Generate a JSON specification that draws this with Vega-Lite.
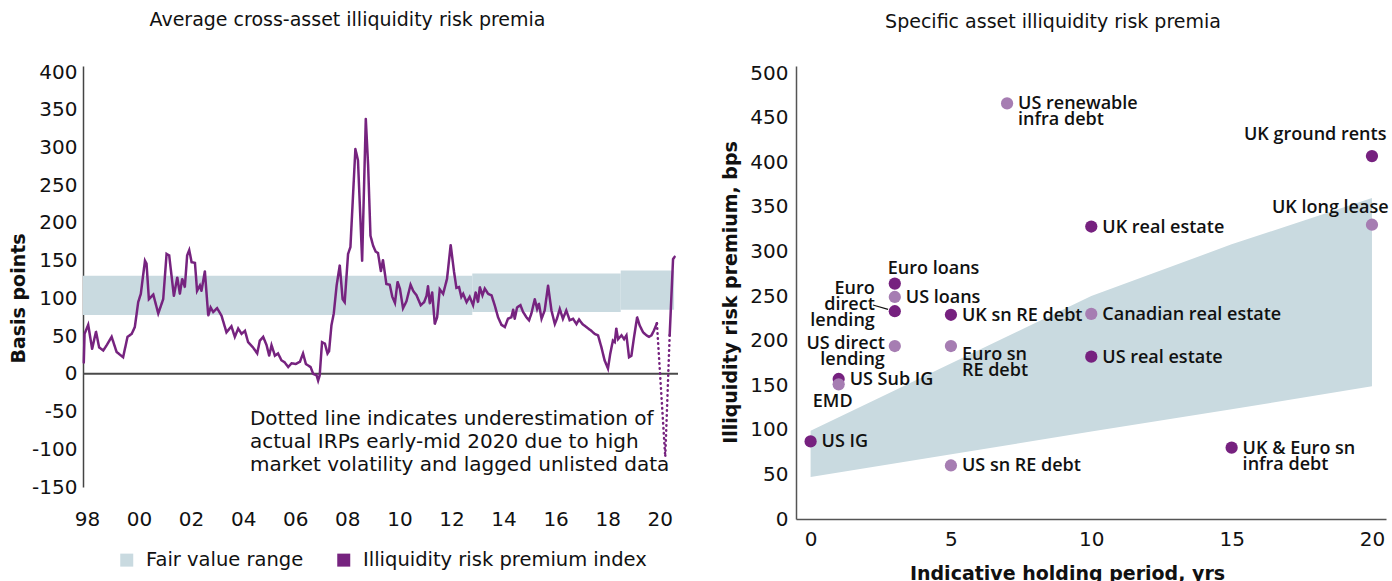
{
  "$schema": "https://vega.github.io/schema/vega-lite/v6.json",
  "padding": {"left": 9, "top": 11, "right": 0, "bottom": 0},
  "bounds": "flush",
  "spacing": 118,
  "config": {
    "view": {"stroke": null},
    "font": "DejaVu Sans",
    "axis": {"grid": false, "ticks": false, "domainColor": "#555555", "domainWidth": 1.5, "labelColor": "#111111", "labelFontSize": 20, "labelFont": "DejaVu Sans", "titleFont": "DejaVu Sans", "titleFontSize": 19, "titleFontWeight": "bold", "titleColor": "#111111", "labelOverlap": false},
    "axisY": {"labelOverlap": false},
    "axisLeft": {"labelOverlap": false},
    "title": {"fontSize": 19, "fontWeight": "normal", "color": "#111111", "font": "DejaVu Sans"}
  },
  "datasets": {
    "fair": [
      {"x0": 1997.85, "x1": 2012.8, "lo": 78, "hi": 130, "key": "Fair value range"},
      {"x0": 2012.8, "x1": 2018.5, "lo": 82, "hi": 133, "key": "Fair value range"},
      {"x0": 2018.5, "x1": 2020.55, "lo": 85, "hi": 137, "key": "Fair value range"},
      {"x0": 2020.55, "x1": 2020.55, "lo": 85, "hi": 85, "key": "Illiquidity risk premium index"}
    ],
    "irp": [
      {"year": 1997.88, "v": 15, "seg": "a"}, {"year": 1997.91, "v": 53, "seg": "a"}, {"year": 1998.05, "v": 65, "seg": "a"},
      {"year": 1998.2, "v": 33, "seg": "a"}, {"year": 1998.35, "v": 56, "seg": "a"}, {"year": 1998.47, "v": 35, "seg": "a"},
      {"year": 1998.63, "v": 31, "seg": "a"}, {"year": 1998.76, "v": 38, "seg": "a"}, {"year": 1998.95, "v": 49, "seg": "a"},
      {"year": 1999.14, "v": 29, "seg": "a"}, {"year": 1999.39, "v": 22, "seg": "a"}, {"year": 1999.56, "v": 49, "seg": "a"},
      {"year": 1999.72, "v": 53, "seg": "a"}, {"year": 1999.84, "v": 62, "seg": "a"}, {"year": 1999.97, "v": 95, "seg": "a"},
      {"year": 2000.07, "v": 106, "seg": "a"}, {"year": 2000.23, "v": 150, "seg": "a"}, {"year": 2000.29, "v": 146, "seg": "a"},
      {"year": 2000.38, "v": 99, "seg": "a"}, {"year": 2000.55, "v": 105, "seg": "a"}, {"year": 2000.74, "v": 80, "seg": "a"},
      {"year": 2000.93, "v": 99, "seg": "a"}, {"year": 2001.06, "v": 159, "seg": "a"}, {"year": 2001.16, "v": 157, "seg": "a"},
      {"year": 2001.34, "v": 103, "seg": "a"}, {"year": 2001.47, "v": 128, "seg": "a"}, {"year": 2001.57, "v": 106, "seg": "a"},
      {"year": 2001.66, "v": 126, "seg": "a"}, {"year": 2001.76, "v": 115, "seg": "a"}, {"year": 2001.85, "v": 157, "seg": "a"},
      {"year": 2001.93, "v": 164, "seg": "a"}, {"year": 2002.02, "v": 148, "seg": "a"}, {"year": 2002.15, "v": 147, "seg": "a"},
      {"year": 2002.23, "v": 110, "seg": "a"}, {"year": 2002.34, "v": 117, "seg": "a"}, {"year": 2002.4, "v": 110, "seg": "a"},
      {"year": 2002.53, "v": 136, "seg": "a"}, {"year": 2002.66, "v": 77, "seg": "a"}, {"year": 2002.75, "v": 88, "seg": "a"},
      {"year": 2002.85, "v": 82, "seg": "a"}, {"year": 2003.0, "v": 87, "seg": "a"}, {"year": 2003.17, "v": 77, "seg": "a"},
      {"year": 2003.36, "v": 55, "seg": "a"}, {"year": 2003.55, "v": 63, "seg": "a"}, {"year": 2003.68, "v": 49, "seg": "a"},
      {"year": 2003.81, "v": 60, "seg": "a"}, {"year": 2003.94, "v": 53, "seg": "a"}, {"year": 2004.07, "v": 57, "seg": "a"},
      {"year": 2004.19, "v": 42, "seg": "a"}, {"year": 2004.38, "v": 35, "seg": "a"}, {"year": 2004.54, "v": 27, "seg": "a"},
      {"year": 2004.64, "v": 44, "seg": "a"}, {"year": 2004.77, "v": 49, "seg": "a"}, {"year": 2004.9, "v": 38, "seg": "a"},
      {"year": 2005.0, "v": 24, "seg": "a"}, {"year": 2005.09, "v": 38, "seg": "a"}, {"year": 2005.22, "v": 24, "seg": "a"},
      {"year": 2005.34, "v": 27, "seg": "a"}, {"year": 2005.47, "v": 18, "seg": "a"}, {"year": 2005.6, "v": 15, "seg": "a"},
      {"year": 2005.73, "v": 9, "seg": "a"}, {"year": 2005.86, "v": 14, "seg": "a"}, {"year": 2006.02, "v": 13, "seg": "a"},
      {"year": 2006.18, "v": 16, "seg": "a"}, {"year": 2006.3, "v": 27, "seg": "a"}, {"year": 2006.41, "v": 13, "seg": "a"},
      {"year": 2006.59, "v": 9, "seg": "a"}, {"year": 2006.69, "v": 0, "seg": "a"}, {"year": 2006.82, "v": -2, "seg": "a"},
      {"year": 2006.88, "v": -9, "seg": "a"}, {"year": 2006.94, "v": -2, "seg": "a"}, {"year": 2007.03, "v": 42, "seg": "a"},
      {"year": 2007.14, "v": 40, "seg": "a"}, {"year": 2007.24, "v": 27, "seg": "a"}, {"year": 2007.3, "v": 30, "seg": "a"},
      {"year": 2007.39, "v": 64, "seg": "a"}, {"year": 2007.48, "v": 80, "seg": "a"}, {"year": 2007.59, "v": 117, "seg": "a"},
      {"year": 2007.71, "v": 144, "seg": "a"}, {"year": 2007.82, "v": 99, "seg": "a"}, {"year": 2007.9, "v": 95, "seg": "a"},
      {"year": 2008.03, "v": 159, "seg": "a"}, {"year": 2008.12, "v": 168, "seg": "a"}, {"year": 2008.31, "v": 298, "seg": "a"},
      {"year": 2008.41, "v": 283, "seg": "a"}, {"year": 2008.57, "v": 150, "seg": "a"}, {"year": 2008.71, "v": 338, "seg": "a"},
      {"year": 2008.8, "v": 276, "seg": "a"}, {"year": 2008.89, "v": 183, "seg": "a"}, {"year": 2008.99, "v": 170, "seg": "a"},
      {"year": 2009.09, "v": 162, "seg": "a"}, {"year": 2009.18, "v": 160, "seg": "a"}, {"year": 2009.29, "v": 136, "seg": "a"},
      {"year": 2009.37, "v": 151, "seg": "a"}, {"year": 2009.5, "v": 119, "seg": "a"}, {"year": 2009.63, "v": 118, "seg": "a"},
      {"year": 2009.73, "v": 102, "seg": "a"}, {"year": 2009.83, "v": 94, "seg": "a"}, {"year": 2009.93, "v": 122, "seg": "a"},
      {"year": 2010.02, "v": 113, "seg": "a"}, {"year": 2010.14, "v": 87, "seg": "a"}, {"year": 2010.27, "v": 96, "seg": "a"},
      {"year": 2010.43, "v": 118, "seg": "a"}, {"year": 2010.53, "v": 110, "seg": "a"}, {"year": 2010.66, "v": 104, "seg": "a"},
      {"year": 2010.82, "v": 91, "seg": "a"}, {"year": 2010.95, "v": 95, "seg": "a"}, {"year": 2011.04, "v": 103, "seg": "a"},
      {"year": 2011.1, "v": 116, "seg": "a"}, {"year": 2011.17, "v": 93, "seg": "a"}, {"year": 2011.26, "v": 108, "seg": "a"},
      {"year": 2011.36, "v": 66, "seg": "a"}, {"year": 2011.45, "v": 75, "seg": "a"}, {"year": 2011.55, "v": 112, "seg": "a"},
      {"year": 2011.68, "v": 106, "seg": "a"}, {"year": 2011.83, "v": 126, "seg": "a"}, {"year": 2011.97, "v": 171, "seg": "a"},
      {"year": 2012.1, "v": 135, "seg": "a"}, {"year": 2012.19, "v": 114, "seg": "a"}, {"year": 2012.29, "v": 115, "seg": "a"},
      {"year": 2012.38, "v": 102, "seg": "a"}, {"year": 2012.45, "v": 106, "seg": "a"}, {"year": 2012.58, "v": 95, "seg": "a"},
      {"year": 2012.7, "v": 102, "seg": "a"}, {"year": 2012.83, "v": 91, "seg": "a"}, {"year": 2012.93, "v": 108, "seg": "a"},
      {"year": 2013.02, "v": 95, "seg": "a"}, {"year": 2013.09, "v": 115, "seg": "a"}, {"year": 2013.19, "v": 104, "seg": "a"},
      {"year": 2013.28, "v": 113, "seg": "a"}, {"year": 2013.41, "v": 106, "seg": "a"}, {"year": 2013.54, "v": 104, "seg": "a"},
      {"year": 2013.66, "v": 91, "seg": "a"}, {"year": 2013.79, "v": 75, "seg": "a"}, {"year": 2013.92, "v": 65, "seg": "a"},
      {"year": 2014.05, "v": 62, "seg": "a"}, {"year": 2014.17, "v": 73, "seg": "a"}, {"year": 2014.3, "v": 75, "seg": "a"},
      {"year": 2014.37, "v": 85, "seg": "a"}, {"year": 2014.43, "v": 73, "seg": "a"}, {"year": 2014.52, "v": 88, "seg": "a"},
      {"year": 2014.65, "v": 91, "seg": "a"}, {"year": 2014.75, "v": 82, "seg": "a"}, {"year": 2014.88, "v": 75, "seg": "a"},
      {"year": 2014.98, "v": 71, "seg": "a"}, {"year": 2015.07, "v": 80, "seg": "a"}, {"year": 2015.2, "v": 99, "seg": "a"},
      {"year": 2015.29, "v": 86, "seg": "a"}, {"year": 2015.36, "v": 93, "seg": "a"}, {"year": 2015.46, "v": 73, "seg": "a"},
      {"year": 2015.58, "v": 84, "seg": "a"}, {"year": 2015.71, "v": 117, "seg": "a"}, {"year": 2015.84, "v": 84, "seg": "a"},
      {"year": 2015.97, "v": 66, "seg": "a"}, {"year": 2016.05, "v": 73, "seg": "a"}, {"year": 2016.16, "v": 86, "seg": "a"},
      {"year": 2016.28, "v": 73, "seg": "a"}, {"year": 2016.41, "v": 84, "seg": "a"}, {"year": 2016.54, "v": 71, "seg": "a"},
      {"year": 2016.67, "v": 73, "seg": "a"}, {"year": 2016.8, "v": 66, "seg": "a"}, {"year": 2016.9, "v": 72, "seg": "a"},
      {"year": 2017.03, "v": 66, "seg": "a"}, {"year": 2017.18, "v": 62, "seg": "a"}, {"year": 2017.37, "v": 57, "seg": "a"},
      {"year": 2017.5, "v": 53, "seg": "a"}, {"year": 2017.63, "v": 51, "seg": "a"}, {"year": 2017.76, "v": 35, "seg": "a"},
      {"year": 2017.88, "v": 18, "seg": "a"}, {"year": 2018.01, "v": 7, "seg": "a"}, {"year": 2018.1, "v": 27, "seg": "a"},
      {"year": 2018.2, "v": 44, "seg": "a"}, {"year": 2018.27, "v": 42, "seg": "a"}, {"year": 2018.33, "v": 60, "seg": "a"},
      {"year": 2018.4, "v": 46, "seg": "a"}, {"year": 2018.53, "v": 51, "seg": "a"}, {"year": 2018.63, "v": 46, "seg": "a"},
      {"year": 2018.72, "v": 51, "seg": "a"}, {"year": 2018.82, "v": 22, "seg": "a"}, {"year": 2018.91, "v": 24, "seg": "a"},
      {"year": 2019.0, "v": 46, "seg": "a"}, {"year": 2019.13, "v": 75, "seg": "a"}, {"year": 2019.23, "v": 64, "seg": "a"},
      {"year": 2019.36, "v": 55, "seg": "a"}, {"year": 2019.49, "v": 51, "seg": "a"}, {"year": 2019.59, "v": 49, "seg": "a"},
      {"year": 2019.68, "v": 51, "seg": "a"}, {"year": 2019.77, "v": 57, "seg": "a"}, {"year": 2019.89, "v": 67, "seg": "a"},
      {"year": 2019.89, "v": 67, "seg": "b"}, {"year": 2020.21, "v": -110, "seg": "b"}, {"year": 2020.38, "v": 51, "seg": "b"},
      {"year": 2020.38, "v": 51, "seg": "c"}, {"year": 2020.51, "v": 152, "seg": "c"}, {"year": 2020.57, "v": 155, "seg": "c"}
    ],
    "band2": [
      {"hp": 0, "lo": 47, "hi": 99},
      {"hp": 10, "lo": 98, "hi": 250},
      {"hp": 15, "lo": 123, "hi": 308},
      {"hp": 20, "lo": 149, "hi": 360}
    ],
    "assets": [
      {"name": "US IG", "label": "US IG", "hp": 0, "irp": 87, "group": "dark"},
      {"name": "US Sub IG", "label": "US Sub IG", "hp": 1, "irp": 157, "group": "dark"},
      {"name": "EMD", "label": "EMD", "hp": 1, "irp": 151, "group": "light"},
      {"name": "Euro loans", "label": "Euro loans", "hp": 3, "irp": 264, "group": "dark"},
      {"name": "US loans", "label": "US loans", "hp": 3, "irp": 249, "group": "light"},
      {"name": "Euro direct lending", "label": "Euro\ndirect\nlending", "hp": 3, "irp": 233, "group": "dark"},
      {"name": "US direct lending", "label": "US direct\nlending", "hp": 3, "irp": 194, "group": "light"},
      {"name": "UK sn RE debt", "label": "UK sn RE debt", "hp": 5, "irp": 229, "group": "dark"},
      {"name": "Euro sn RE debt", "label": "Euro sn\nRE debt", "hp": 5, "irp": 194, "group": "light"},
      {"name": "US sn RE debt", "label": "US sn RE debt", "hp": 5, "irp": 60, "group": "light"},
      {"name": "US renewable infra debt", "label": "US renewable\ninfra debt", "hp": 7, "irp": 466, "group": "light"},
      {"name": "UK real estate", "label": "UK real estate", "hp": 10, "irp": 328, "group": "dark"},
      {"name": "Canadian real estate", "label": "Canadian real estate", "hp": 10, "irp": 230, "group": "light"},
      {"name": "US real estate", "label": "US real estate", "hp": 10, "irp": 182, "group": "dark"},
      {"name": "UK & Euro sn infra debt", "label": "UK & Euro sn\ninfra debt", "hp": 15, "irp": 80, "group": "dark"},
      {"name": "UK ground rents", "label": "UK ground rents", "hp": 20, "irp": 407, "group": "dark"},
      {"name": "UK long lease", "label": "UK long lease", "hp": 20, "irp": 330, "group": "light"}
    ],
    "leader": [
      {"hp": 2.22, "irp": 240, "hp2": 2.76, "irp2": 235}
    ]
  },
  "hconcat": [
    {
      "width": 595,
      "height": 421,
      "title": {"text": "Average cross-asset illiquidity risk premia", "dx": -33, "offset": 32},
      "encoding": {
        "x": {"type": "quantitative", "scale": {"domain": [1997.85, 2020.7], "nice": false, "zero": false},
              "axis": {"values": [1998, 2000, 2002, 2004, 2006, 2008, 2010, 2012, 2014, 2016, 2018, 2020], "labelExpr": "(datum.value % 100) < 10 ? '0' + (datum.value % 100) : '' + (datum.value % 100)", "domain": false, "title": null, "labelPadding": 22, "labelFontSize": 20, "labelFlush": false, "labelOverlap": false}},
        "y": {"type": "quantitative", "scale": {"domain": [-150, 408], "nice": false},
              "axis": {"values": [-150, -100, -50, 0, 50, 100, 150, 200, 250, 300, 350, 400], "labelExpr": "'' + datum.value", "title": "Basis points", "titleX": -65, "titleY": 232, "titleAngle": 270, "titleBaseline": "middle", "titleAlign": "center", "labelPadding": 6, "domainColor": "#444444", "labelFlush": false, "labelOverlap": false, "labelBound": false, "labelSeparation": -15}}
      },
      "layer": [
        {
          "data": {"name": "fair"},
          "mark": {"type": "rect"},
          "encoding": {
            "x": {"field": "x0", "type": "quantitative"},
            "x2": {"field": "x1"},
            "y": {"field": "lo", "type": "quantitative"},
            "y2": {"field": "hi"},
            "fill": {"field": "key", "type": "nominal",
                     "scale": {"domain": ["Fair value range", "Illiquidity risk premium index"], "range": ["#c9dae0", "#76237f"]},
                     "legend": {"title": null, "orient": "none", "legendX": 34, "legendY": 484, "direction": "horizontal", "columns": 2, "symbolType": "square", "symbolSize": 169, "symbolStrokeWidth": 0, "labelFontSize": 19.5, "labelFont": "DejaVu Sans", "labelColor": "#111111", "labelLimit": 500, "columnPadding": 30, "labelOffset": 9.5}}
          }
        },
        {
          "data": {"values": [{}]},
          "mark": {"type": "rule", "color": "#4a4a4a", "strokeWidth": 2},
          "encoding": {"y": {"datum": 0, "type": "quantitative"}}
        },
        {
          "data": {"name": "irp"},
          "mark": {"type": "line", "strokeWidth": 2.5, "color": "#76237f", "strokeCap": "round"},
          "encoding": {
            "x": {"field": "year", "type": "quantitative"},
            "y": {"field": "v", "type": "quantitative"},
            "strokeDash": {"field": "seg", "type": "nominal", "scale": {"domain": ["a", "b", "c"], "range": [[1, 0], [0.5, 4.5], [1, 0]]}, "legend": null}
          }
        },
        {
          "data": {"values": [{}]},
          "mark": {"type": "text", "align": "left", "baseline": "top", "fontSize": 20, "lineHeight": 23, "color": "#111111", "font": "DejaVu Sans"},
          "encoding": {
            "x": {"datum": 2004.26, "type": "quantitative"},
            "y": {"datum": -46, "type": "quantitative"},
            "text": {"value": ["Dotted line indicates underestimation of", "actual IRPs early-mid 2020 due to high", "market volatility and lagged unlisted data"]}
          }
        }
      ]
    },
    {
      "width": 590,
      "height": 453,
      "title": {"text": "Specific asset illiquidity risk premia", "dx": -38, "offset": 31},
      "layer": [
        {
          "data": {"name": "band2"},
          "mark": {"type": "area", "color": "#c9dae0", "opacity": 1},
          "encoding": {
            "x": {"field": "hp", "type": "quantitative", "scale": {"domain": [-0.52, 20.5], "nice": false, "zero": false},
                  "axis": {"values": [0, 5, 10, 15, 20], "title": "Indicative holding period, yrs", "titleX": 271, "titleY": 45, "titleBaseline": "top", "titleAlign": "center", "labelPadding": 10, "labelFlush": false, "labelOverlap": false}},
            "y": {"field": "lo", "type": "quantitative", "scale": {"domain": [0, 508], "nice": false},
                  "axis": {"values": [0, 50, 100, 150, 200, 250, 300, 350, 400, 450, 500], "title": "Illiquidity risk premium, bps", "titleX": -66, "titleY": 226, "titleAngle": 270, "titleBaseline": "middle", "titleAlign": "center", "labelPadding": 8, "labelFlush": false, "labelOverlap": false}},
            "y2": {"field": "hi"}
          }
        },
        {
          "data": {"name": "leader"},
          "mark": {"type": "rule", "color": "#111111", "strokeWidth": 1.2},
          "encoding": {
            "x": {"field": "hp", "type": "quantitative"},
            "x2": {"field": "hp2"},
            "y": {"field": "irp", "type": "quantitative"},
            "y2": {"field": "irp2"}
          }
        },
        {
          "data": {"name": "assets"},
          "mark": {"type": "circle", "size": 150, "opacity": 1},
          "encoding": {
            "x": {"field": "hp", "type": "quantitative"},
            "y": {"field": "irp", "type": "quantitative"},
            "color": {"field": "group", "type": "nominal", "scale": {"domain": ["dark", "light"], "range": ["#76217f", "#a67db2"]}, "legend": null}
          }
        },
        {
          "data": {"name": "assets"},
          "transform": [{"filter": {"field": "name", "oneOf": ["US IG", "US Sub IG", "US loans", "UK sn RE debt", "Canadian real estate", "US real estate", "UK real estate", "US sn RE debt", "UK & Euro sn infra debt", "US renewable infra debt"]}}],
          "mark": {"type": "text", "align": "left", "baseline": "middle", "dx": 11, "dy": 1, "font": "Open Sans", "fontSize": 18, "fontWeight": 600, "lineBreak": "\n", "lineHeight": 16, "color": "#111111"},
          "encoding": {"x": {"field": "hp", "type": "quantitative"}, "y": {"field": "irp", "type": "quantitative"}, "text": {"field": "label"}}
        },
        {
          "data": {"name": "assets"},
          "transform": [{"filter": {"field": "name", "oneOf": ["Euro sn RE debt"]}}],
          "mark": {"type": "text", "align": "left", "baseline": "middle", "dx": 11, "dy": 9, "font": "Open Sans", "fontSize": 18, "fontWeight": 600, "lineBreak": "\n", "lineHeight": 16, "color": "#111111"},
          "encoding": {"x": {"field": "hp", "type": "quantitative"}, "y": {"field": "irp", "type": "quantitative"}, "text": {"field": "label"}}
        },
        {
          "data": {"name": "assets"},
          "transform": [{"filter": {"field": "name", "oneOf": ["Euro loans"]}}],
          "mark": {"type": "text", "align": "left", "baseline": "middle", "dx": -7, "dy": -15, "font": "Open Sans", "fontSize": 18, "fontWeight": 600, "lineBreak": "\n", "lineHeight": 16, "color": "#111111"},
          "encoding": {"x": {"field": "hp", "type": "quantitative"}, "y": {"field": "irp", "type": "quantitative"}, "text": {"field": "label"}}
        },
        {
          "data": {"name": "assets"},
          "transform": [{"filter": {"field": "name", "oneOf": ["UK ground rents"]}}],
          "mark": {"type": "text", "align": "left", "baseline": "middle", "dx": -128, "dy": -21, "font": "Open Sans", "fontSize": 18, "fontWeight": 600, "color": "#111111"},
          "encoding": {"x": {"field": "hp", "type": "quantitative"}, "y": {"field": "irp", "type": "quantitative"}, "text": {"field": "label"}}
        },
        {
          "data": {"name": "assets"},
          "transform": [{"filter": {"field": "name", "oneOf": ["UK long lease"]}}],
          "mark": {"type": "text", "align": "left", "baseline": "middle", "dx": -100, "dy": -17, "font": "Open Sans", "fontSize": 18, "fontWeight": 600, "color": "#111111"},
          "encoding": {"x": {"field": "hp", "type": "quantitative"}, "y": {"field": "irp", "type": "quantitative"}, "text": {"field": "label"}}
        },
        {
          "data": {"name": "assets"},
          "transform": [{"filter": {"field": "name", "oneOf": ["Euro direct lending"]}}],
          "mark": {"type": "text", "align": "right", "baseline": "middle", "dx": -20, "dy": -22, "font": "Open Sans", "fontSize": 18, "fontWeight": 600, "lineBreak": "\n", "lineHeight": 16, "color": "#111111"},
          "encoding": {"x": {"field": "hp", "type": "quantitative"}, "y": {"field": "irp", "type": "quantitative"}, "text": {"field": "label"}}
        },
        {
          "data": {"name": "assets"},
          "transform": [{"filter": {"field": "name", "oneOf": ["US direct lending"]}}],
          "mark": {"type": "text", "align": "right", "baseline": "middle", "dx": -10, "dy": -2, "font": "Open Sans", "fontSize": 18, "fontWeight": 600, "lineBreak": "\n", "lineHeight": 16, "color": "#111111"},
          "encoding": {"x": {"field": "hp", "type": "quantitative"}, "y": {"field": "irp", "type": "quantitative"}, "text": {"field": "label"}}
        },
        {
          "data": {"name": "assets"},
          "transform": [{"filter": {"field": "name", "oneOf": ["EMD"]}}],
          "mark": {"type": "text", "align": "center", "baseline": "middle", "dx": -6, "dy": 18, "font": "Open Sans", "fontSize": 18, "fontWeight": 600, "color": "#111111"},
          "encoding": {"x": {"field": "hp", "type": "quantitative"}, "y": {"field": "irp", "type": "quantitative"}, "text": {"field": "label"}}
        }
      ]
    }
  ]
}
